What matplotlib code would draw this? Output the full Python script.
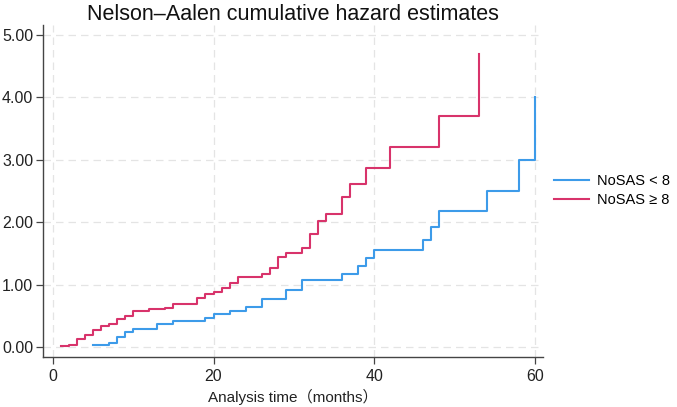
import numpy as np
import matplotlib.pyplot as plt

plt.rcParams['font.family'] = ['Liberation Sans', 'Noto Sans CJK SC', 'DejaVu Sans']

# Nelson-Aalen steps (time in months, cumulative hazard)
t_low = [5, 7, 8, 9, 10, 13, 15, 19, 20, 22, 24, 26, 29, 31, 36, 38, 39, 40, 46, 47, 48, 54, 58, 60]
h_low = [0.03, 0.07, 0.16, 0.245, 0.28, 0.37, 0.42, 0.47, 0.53, 0.58, 0.64, 0.77, 0.91, 1.08,
         1.17, 1.29, 1.42, 1.55, 1.72, 1.92, 2.17, 2.50, 3.00, 4.00]

t_high = [1, 2, 3, 4, 5, 6, 7, 8, 9, 10, 12, 14, 15, 18, 19, 20, 21, 22, 23, 26, 27, 28, 29,
          31, 32, 33, 34, 36, 37, 39, 42, 48, 53]
h_high = [0.02, 0.03, 0.12, 0.19, 0.27, 0.33, 0.37, 0.45, 0.50, 0.575, 0.60, 0.63, 0.69, 0.78,
          0.85, 0.88, 0.95, 1.03, 1.12, 1.17, 1.27, 1.44, 1.50, 1.58, 1.81, 2.01, 2.13, 2.41,
          2.61, 2.86, 3.21, 3.70, 4.69]

labels = ['NoSAS < 8', 'NoSAS ≥ 8']

fig = plt.figure(figsize=(6.77, 4.07), dpi=100)
ax = fig.add_axes([0.0635, 0.123, 0.739, 0.816])

ax.step(t_low, h_low, where='post', color='#3d9be9', lw=1.5, label=labels[0])
ax.step(t_high, h_high, where='post', color='#d8336b', lw=1.5, label=labels[1])

ax.set_xlim(-1.2, 61)
ax.set_ylim(-0.16, 5.16)
ax.set_xticks([0, 20, 40, 60])
ax.set_yticks([0, 1, 2, 3, 4, 5])
ax.set_yticklabels(['%.2f' % v for v in [0, 1, 2, 3, 4, 5]])
ax.grid(True, color='#e4e4e4', linestyle=(0, (6, 4)), lw=0.9)
ax.set_axisbelow(True)

for s in ['top', 'right']:
    ax.spines[s].set_visible(False)
for s in ['left', 'bottom']:
    ax.spines[s].set_color('#444444')
    ax.spines[s].set_linewidth(1.0)
ax.tick_params(direction='out', length=5, width=0.9, color='#444444', labelsize=11.5,
               labelcolor='#222222')
ax.tick_params(axis='y', pad=2)

ax.set_title('Nelson–Aalen cumulative hazard estimates', fontsize=15.5, pad=3, color='#111111')
ax.set_xlabel('Analysis time（months）', fontsize=11, labelpad=4, color='#222222')

ax.legend(loc='center left', bbox_to_anchor=(1.0, 0.50), frameon=False, fontsize=10.5,
          handlelength=2.4, handletextpad=0.55, labelspacing=0.35, borderaxespad=0.3)

fig.savefig('out.png', dpi=100)
